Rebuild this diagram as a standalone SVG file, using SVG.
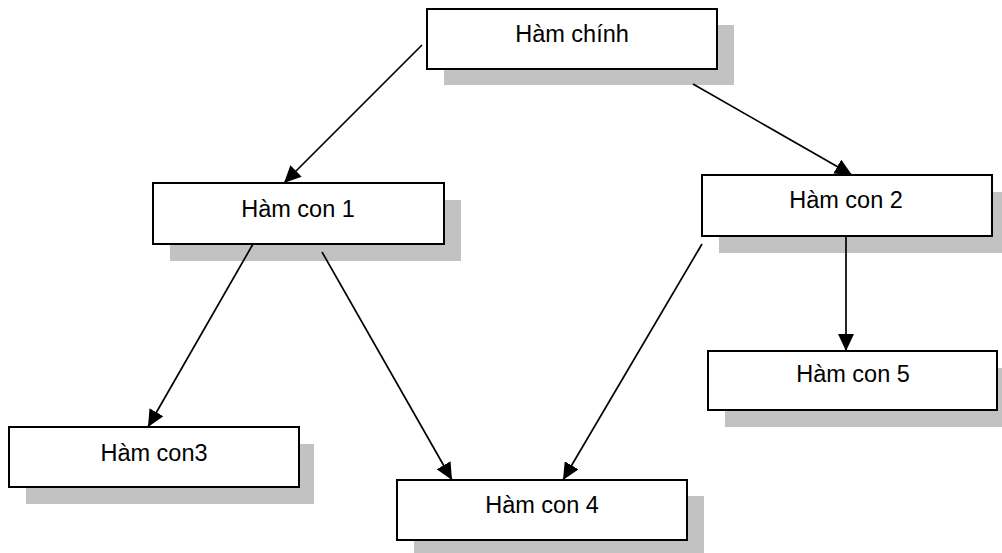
<svg xmlns="http://www.w3.org/2000/svg" width="1002" height="553" viewBox="0 0 1002 553">
  <style>
    .shadow { fill: #c2c2c2; }
    .box { fill: #ffffff; stroke: #000000; stroke-width: 2; }
    .label { font-family: "Liberation Sans", Arial, sans-serif; font-size: 23.5px; fill: #000000; text-anchor: middle; }
    .edge { stroke: #000000; stroke-width: 1.7; fill: none; marker-end: url(#arrow); }
  </style>
  <defs>
    <marker id="arrow" markerUnits="userSpaceOnUse" markerWidth="18" markerHeight="16" refX="17" refY="8" orient="auto">
      <path d="M0,0 L17,8 L0,16 Z" fill="#000000"/>
    </marker>
  </defs>
  <rect width="1002" height="553" fill="#ffffff"/>

  <g id="node-ham-chinh">
    <rect class="shadow" x="444" y="25" width="290" height="60"/>
    <rect class="box" x="427" y="9" width="290" height="60"/>
    <text class="label" x="572" y="42">Hàm chính</text>
  </g>

  <g id="node-ham-con-1">
    <rect class="shadow" x="170" y="200" width="291" height="61"/>
    <rect class="box" x="153" y="183" width="291" height="61"/>
    <text class="label" x="298" y="217">Hàm con 1</text>
  </g>

  <g id="node-ham-con-2">
    <rect class="shadow" x="719" y="192" width="290" height="61"/>
    <rect class="box" x="702" y="175" width="290" height="61"/>
    <text class="label" x="846" y="208">Hàm con 2</text>
  </g>

  <g id="node-ham-con-3">
    <rect class="shadow" x="26" y="444" width="288" height="60"/>
    <rect class="box" x="9" y="427" width="290" height="60"/>
    <text class="label" x="154" y="461">Hàm con3</text>
  </g>

  <g id="node-ham-con-4">
    <rect class="shadow" x="414" y="496" width="290" height="57"/>
    <rect class="box" x="397" y="480" width="290" height="60"/>
    <text class="label" x="542" y="513">Hàm con 4</text>
  </g>

  <g id="node-ham-con-5">
    <rect class="shadow" x="725" y="368" width="290" height="59"/>
    <rect class="box" x="708" y="351" width="289" height="59"/>
    <text class="label" x="853" y="382">Hàm con 5</text>
  </g>

  <g id="connectors">
    <line class="edge" x1="422" y1="45" x2="284" y2="183"/>
    <line class="edge" x1="693" y1="84" x2="852" y2="175"/>
    <line class="edge" x1="253" y1="244" x2="148" y2="427"/>
    <line class="edge" x1="322" y1="252" x2="452" y2="480"/>
    <line class="edge" x1="702" y1="244" x2="563" y2="480"/>
    <line class="edge" x1="846" y1="236" x2="846" y2="351"/>
  </g>
</svg>
